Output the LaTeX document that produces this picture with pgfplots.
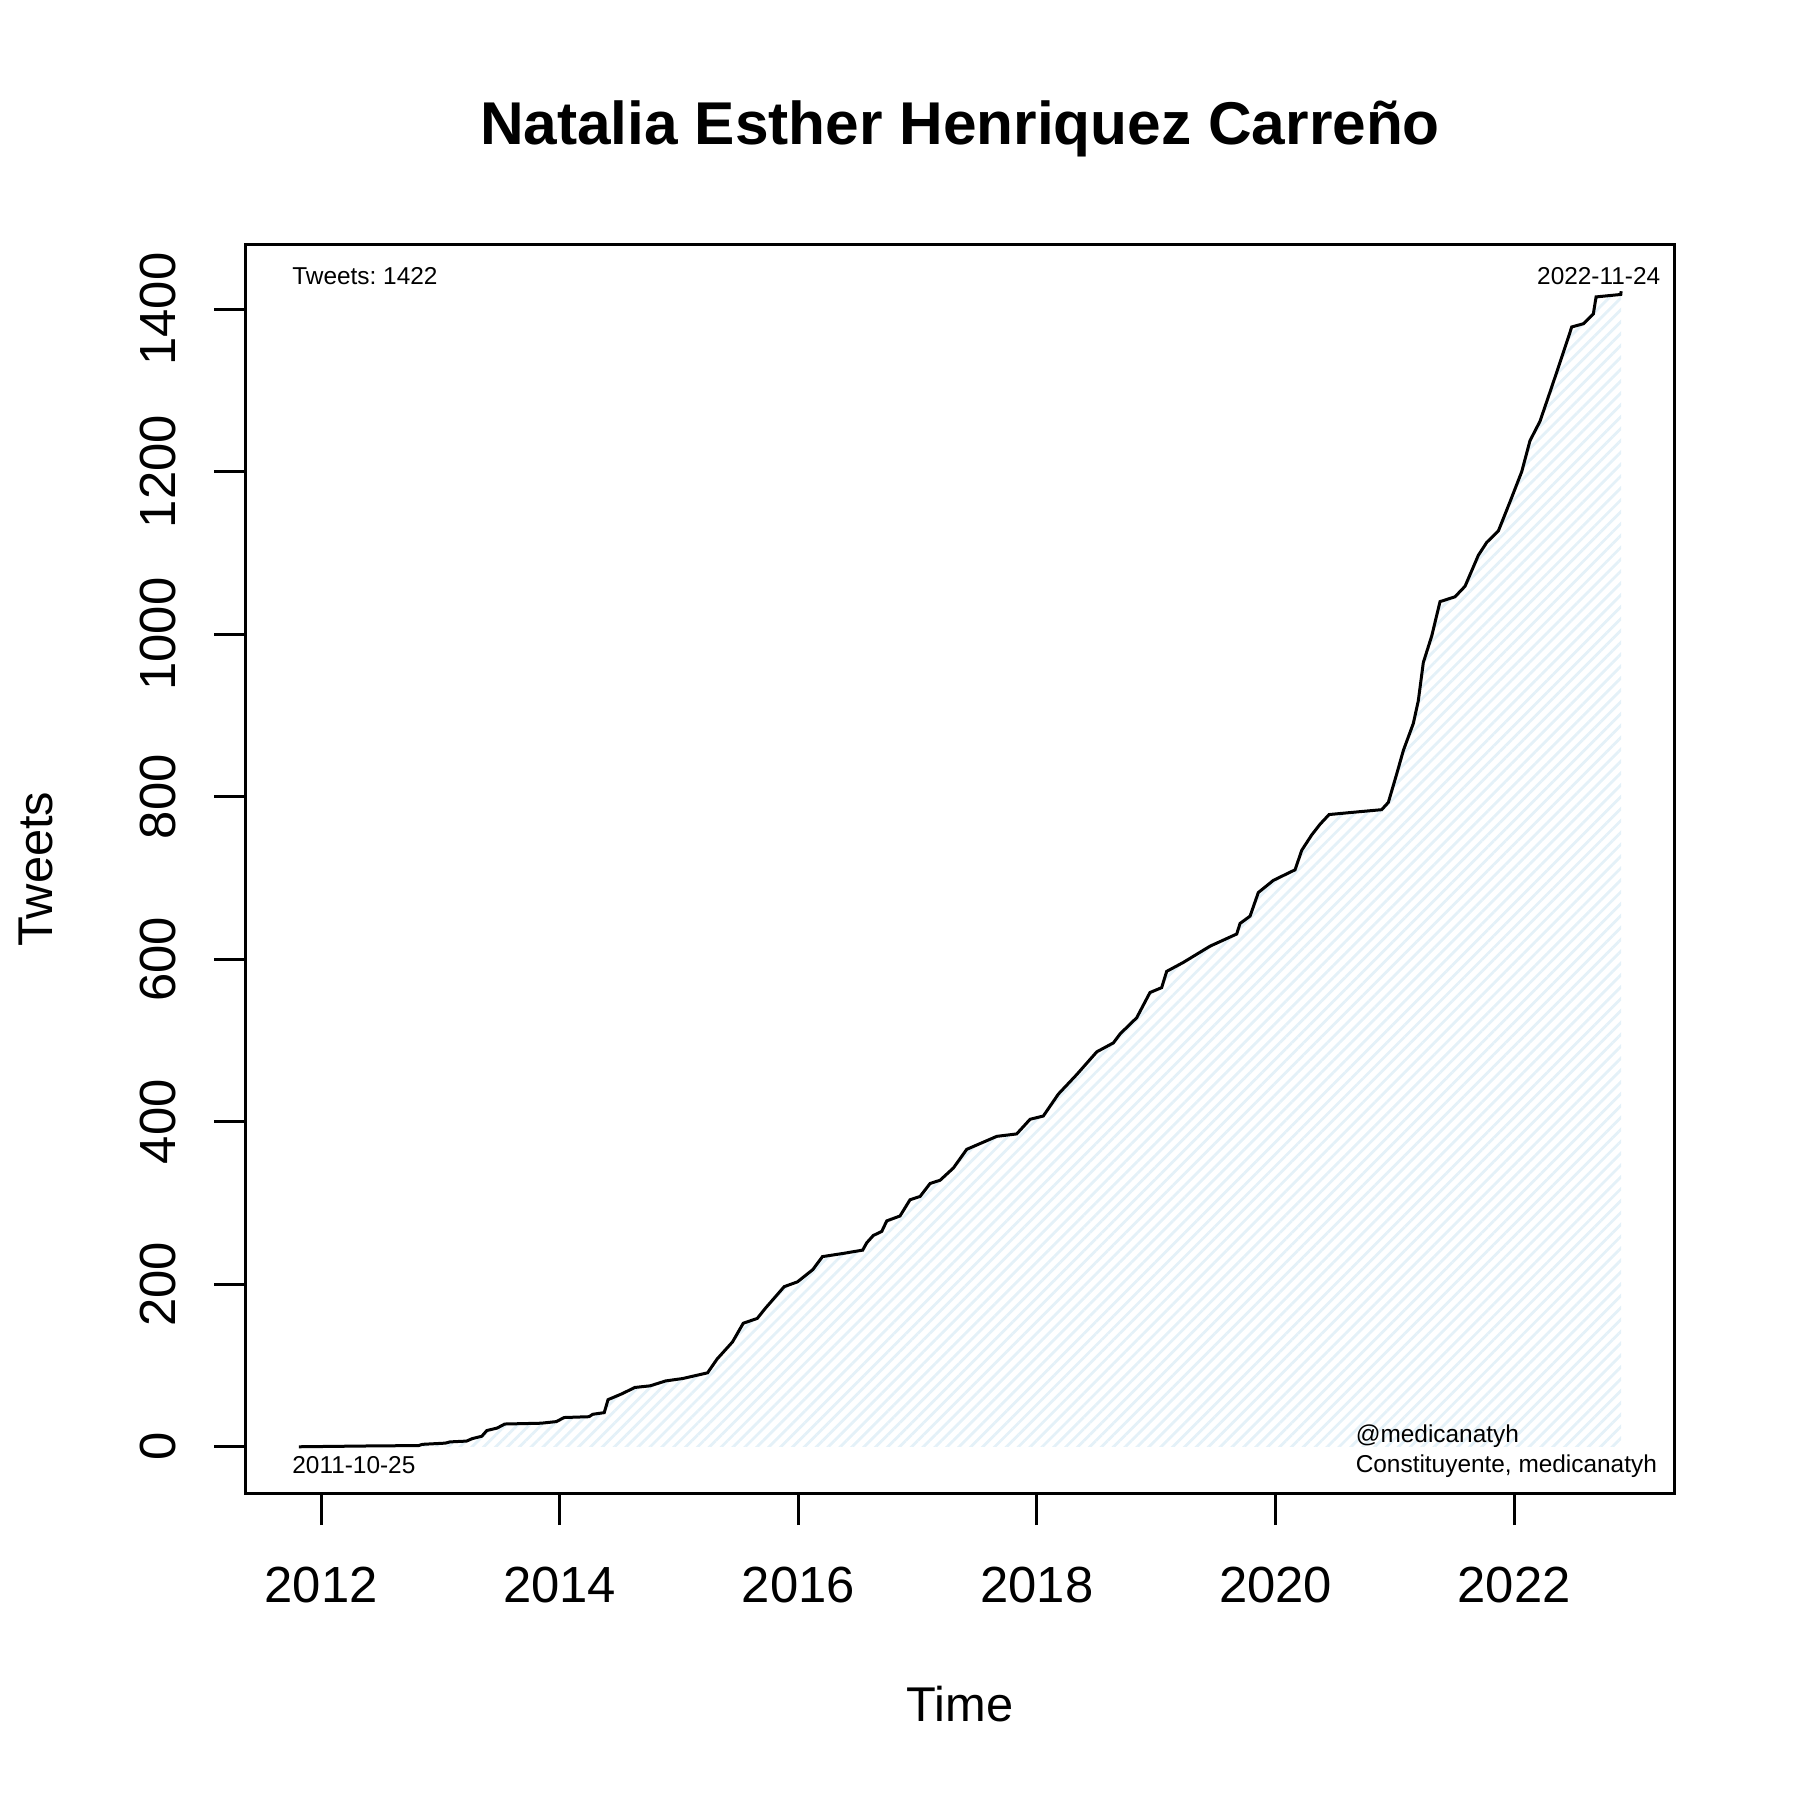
\documentclass[border=0pt]{standalone}
\usepackage{pgfplots}
\pgfplotsset{compat=1.18}
\usepackage{fontspec}
\setmainfont{Liberation Sans}
\usetikzlibrary{patterns.meta}
\definecolor{hatch}{RGB}{228,241,248}
\frenchspacing
\begin{document}
\begin{tikzpicture}
\begin{axis}[
  at={(0,0)}, anchor=south west,
  scale only axis, width=357pt, height=312pt,
  xmin=2011.3704, xmax=2023.3392,
  ymin=-56.88, ymax=1478.88,
  xtick={2012,2014,...,2022},
  ytick={0,200,...,1400},
  tick pos=left,
  tick align=outside,
  major tick length=8pt,
  minor tick num=0,
  axis line style={line width=0.75pt},
  every tick/.style={line width=0.75pt, black},
  /pgf/number format/assume math mode=true,
  /pgf/number format/.cd, 1000 sep={}, /pgfplots/.cd,
  xticklabel style={font=\fontsize{12.7}{15}\selectfont, anchor=base},
  yticklabel style={font=\fontsize{12.7}{15}\selectfont, rotate=90, anchor=base},
  xticklabel shift=19.4pt,
  yticklabel shift=9.75pt,
]
\addplot[draw=none, pattern={Lines[angle=45, distance=2.1pt, line width=0.7pt]}, pattern color=hatch] coordinates {
(2011.814,0) (2012.40,1) (2012.817,1.5) (2012.85,3) (2013.042,4.5) (2013.08,6) (2013.219,7) (2013.266,10) (2013.347,13) (2013.389,20) (2013.475,23) (2013.539,28) (2013.844,29) (2013.972,31) (2014.037,36) (2014.245,37) (2014.277,40) (2014.373,42) (2014.405,58) (2014.518,65) (2014.630,73) (2014.758,75) (2014.887,81) (2015.031,84) (2015.239,91) (2015.319,108) (2015.448,129) (2015.538,152) (2015.656,158) (2015.721,170) (2015.881,197) (2015.993,203) (2016.121,218) (2016.202,234) (2016.378,238) (2016.539,242) (2016.573,251) (2016.628,260) (2016.699,265) (2016.741,278) (2016.852,284) (2016.936,304) (2017.020,308) (2017.104,324) (2017.188,328) (2017.299,343) (2017.411,366) (2017.663,382) (2017.830,385) (2017.942,403) (2018.053,407) (2018.179,434) (2018.333,458) (2018.501,486) (2018.640,497) (2018.696,508) (2018.836,528) (2018.947,559) (2019.045,565) (2019.087,585) (2019.226,596) (2019.450,616) (2019.674,631) (2019.702,644) (2019.786,653) (2019.855,682) (2019.981,697) (2020.163,710) (2020.219,734) (2020.303,753) (2020.372,766) (2020.448,778) (2020.666,781) (2020.889,784) (2020.945,793) (2021.015,828) (2021.071,857) (2021.154,890) (2021.196,918) (2021.238,965) (2021.309,998) (2021.378,1040) (2021.504,1046) (2021.588,1059) (2021.699,1097) (2021.770,1113) (2021.867,1127) (2021.965,1163) (2022.063,1200) (2022.132,1238) (2022.216,1262) (2022.314,1304) (2022.426,1353) (2022.482,1378) (2022.580,1382) (2022.663,1394) (2022.686,1415) (2022.893,1418) (2022.896,1422) (2022.896,0)
} -- cycle;
\addplot[black, line width=0.75pt] coordinates {
(2011.814,0) (2012.40,1) (2012.817,1.5) (2012.85,3) (2013.042,4.5) (2013.08,6) (2013.219,7) (2013.266,10) (2013.347,13) (2013.389,20) (2013.475,23) (2013.539,28) (2013.844,29) (2013.972,31) (2014.037,36) (2014.245,37) (2014.277,40) (2014.373,42) (2014.405,58) (2014.518,65) (2014.630,73) (2014.758,75) (2014.887,81) (2015.031,84) (2015.239,91) (2015.319,108) (2015.448,129) (2015.538,152) (2015.656,158) (2015.721,170) (2015.881,197) (2015.993,203) (2016.121,218) (2016.202,234) (2016.378,238) (2016.539,242) (2016.573,251) (2016.628,260) (2016.699,265) (2016.741,278) (2016.852,284) (2016.936,304) (2017.020,308) (2017.104,324) (2017.188,328) (2017.299,343) (2017.411,366) (2017.663,382) (2017.830,385) (2017.942,403) (2018.053,407) (2018.179,434) (2018.333,458) (2018.501,486) (2018.640,497) (2018.696,508) (2018.836,528) (2018.947,559) (2019.045,565) (2019.087,585) (2019.226,596) (2019.450,616) (2019.674,631) (2019.702,644) (2019.786,653) (2019.855,682) (2019.981,697) (2020.163,710) (2020.219,734) (2020.303,753) (2020.372,766) (2020.448,778) (2020.666,781) (2020.889,784) (2020.945,793) (2021.015,828) (2021.071,857) (2021.154,890) (2021.196,918) (2021.238,965) (2021.309,998) (2021.378,1040) (2021.504,1046) (2021.588,1059) (2021.699,1097) (2021.770,1113) (2021.867,1127) (2021.965,1163) (2022.063,1200) (2022.132,1238) (2022.216,1262) (2022.314,1304) (2022.426,1353) (2022.482,1378) (2022.580,1382) (2022.663,1394) (2022.686,1415) (2022.893,1418) (2022.896,1422)
};
\end{axis}
\node[anchor=base, font=\bfseries\fontsize{15.1}{18}\selectfont, inner sep=0pt] at (178.5pt,337pt) {Natalia Esther Henriquez Carreño};
\node[anchor=base, font=\fontsize{12.2}{15}\selectfont, inner sep=0pt] at (178.5pt,-57.2pt) {Time};
\node[anchor=base, rotate=90, font=\fontsize{12.2}{15}\selectfont, inner sep=0pt] at (-48.25pt,156pt) {Tweets};
\begin{scope}[every node/.style={font=\fontsize{6.1}{7.5}\selectfont, inner sep=0pt}]
\node[anchor=base west] at (11.4pt,302pt) {Tweets: 1422};
\node[anchor=base east] at (353.75pt,302.2pt) {2022-11-24};
\node[anchor=base west] at (11.4pt,4.9pt) {2011-10-25};
\node[anchor=base west] at (277.25pt,12.6pt) {@medicanatyh};
\node[anchor=base west] at (277.25pt,5.2pt) {Constituyente, medicanatyh};
\end{scope}
\pgfresetboundingbox
\useasboundingbox (-61.5pt,-76.75pt) rectangle (388.5pt,373.25pt);
\end{tikzpicture}
\end{document}
